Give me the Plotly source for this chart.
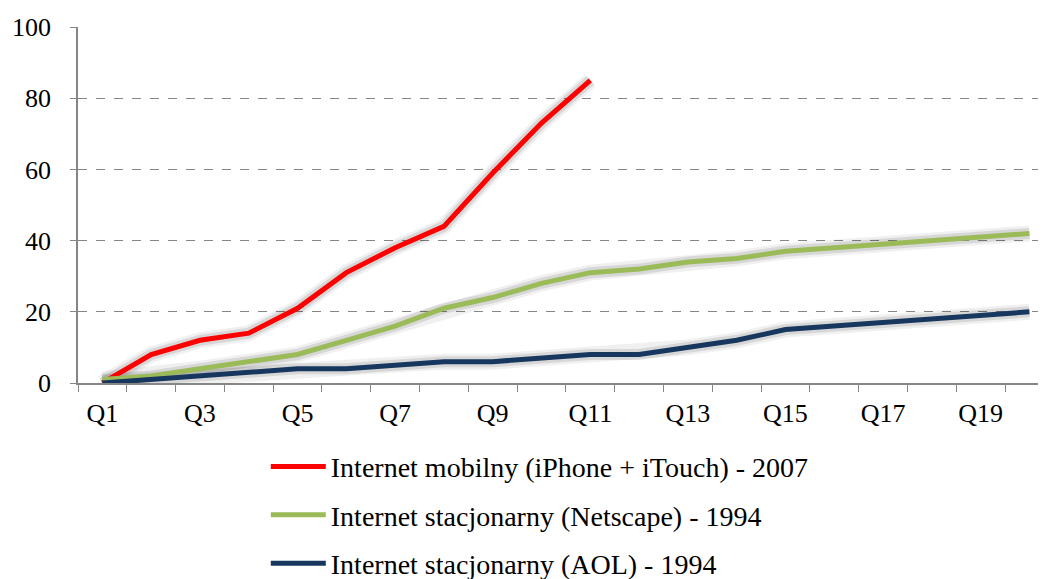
import plotly.graph_objects as go

quarters = [f"Q{i}" for i in range(1, 21)]
tick_labels = [q if i % 2 == 0 else "" for i, q in enumerate(quarters)]

mobile = [0, 8, 12, 14, 21, 31, 38, 44, 59, 73, 85]
netscape = [1, 2, 4, 6, 8, 12, 16, 21, 24, 28, 31, 32, 34, 35, 37, 38, 39, 40, 41, 42]
aol = [0, 1, 2, 3, 4, 4, 5, 6, 6, 7, 8, 8, 10, 12, 15, 16, 17, 18, 19, 20]

names = [
    "Internet mobilny (iPhone + iTouch) - 2007",
    "Internet stacjonarny (Netscape) - 1994",
    "Internet stacjonarny (AOL) - 1994",
]
colors = ["#FF0000", "#9BBB59", "#17375E"]
series = [mobile, netscape, aol]

FONT = "Liberation Serif"

fig = go.Figure()

# soft shadows
for vals in series:
    for w, a in [(16, 0.06), (11, 0.10)]:
        fig.add_trace(go.Scatter(
            x=quarters[:len(vals)], y=vals, mode="lines",
            line=dict(color=f"rgba(0,0,0,{a})", width=w),
            showlegend=False, hoverinfo="skip"))

for i, (vals, name, col) in enumerate(zip(series, names, colors)):
    fig.add_trace(go.Scatter(
        x=quarters[:len(vals)], y=vals, mode="lines", name=name,
        legendgroup=f"g{i}",
        line=dict(color=col, width=5)))

fig.update_layout(
    width=1046, height=579,
    margin=dict(l=70, r=8, t=19, b=204, autoexpand=False),
    paper_bgcolor="white", plot_bgcolor="white",
    font=dict(family=FONT, size=26, color="black"),
    showlegend=True,
    legend=dict(
        x=0.194, y=-0.165, xanchor="left", yanchor="top",
        orientation="v", traceorder="grouped", tracegroupgap=9,
        font=dict(family=FONT, size=28, color="black"),
        itemwidth=55, bgcolor="rgba(0,0,0,0)"),
    xaxis=dict(
        type="category", categoryorder="array", categoryarray=quarters,
        range=[-0.5, 19.34],
        tickmode="array", tickvals=quarters, ticktext=tick_labels,
        tickson="boundaries", ticks="outside", ticklen=7, tickcolor="#868686",
        tickwidth=1.3, tickangle=0,
        showline=True, linecolor="#868686", linewidth=1.5,
        showgrid=False, zeroline=False,
        tickfont=dict(family=FONT, size=26),
        ticklabelstandoff=6),
    yaxis=dict(
        range=[0, 100], tickvals=[0, 20, 40, 60, 80, 100],
        ticks="outside", ticklen=6, tickcolor="#868686", tickwidth=1.3,
        showline=True, linecolor="#868686", linewidth=1.5,
        showgrid=True, gridcolor="#868686", griddash="dash", gridwidth=1.3,
        zeroline=False,
        tickfont=dict(family=FONT, size=26),
        ticklabelstandoff=14),
)

fig.write_html("out.html")
